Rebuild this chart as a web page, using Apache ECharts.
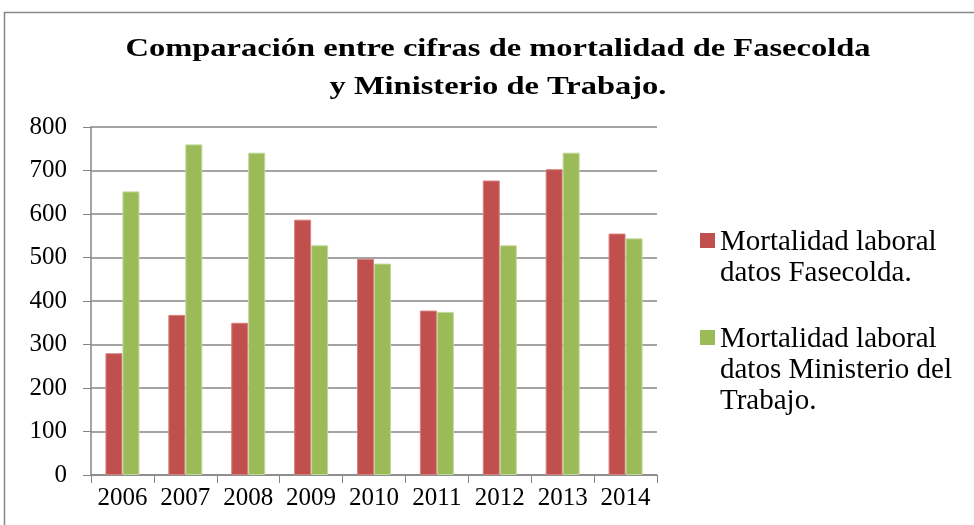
<!DOCTYPE html>
<html><head><meta charset="utf-8">
<script src="https://cdn.jsdelivr.net/npm/echarts@6/dist/echarts.min.js"></script>
<style>html,body{margin:0;padding:0;background:#fff;}#c{width:974px;height:525px;}</style>
</head><body><div id="c"></div>
<script>
const years = ['2006','2007','2008','2009','2010','2011','2012','2013','2014'];
const fasecolda = [280, 368, 350, 587, 497, 378, 677, 703, 555];
const ministerio = [652, 760, 741, 528, 486, 375, 528, 741, 544];
const seriesNames = ['Mortalidad laboral\ndatos Fasecolda.', 'Mortalidad laboral\ndatos Ministerio del\nTrabajo.'];
const titleLines = ['Comparación entre cifras de mortalidad de Fasecolda', 'y Ministerio de Trabajo.'];
const colors = ['#C0504D', '#9BBB59'];

const chart = echarts.init(document.getElementById('c'), null, {renderer:'canvas'});
const serif = '"Liberation Serif", "Times New Roman", serif';
const legendText = {fontFamily:serif, fontSize:29, lineHeight:31, color:'#000'};
chart.setOption({
  animation:false,
  backgroundColor:'#fff',
  graphic:[
    {type:'rect', shape:{x:4.5,y:12.5,width:1000,height:600}, style:{fill:'none', stroke:'#868686', lineWidth:1.5}, silent:true},
    {type:'text', x:498, y:49, scaleX:1.25, style:{text:titleLines[0], align:'center', verticalAlign:'middle', font:'bold 26px ' + serif, fill:'#000'}},
    {type:'text', x:498, y:87, scaleX:1.25, style:{text:titleLines[1], align:'center', verticalAlign:'middle', font:'bold 26px ' + serif, fill:'#000'}}
  ],
  legend:[
    {orient:'vertical', left:700, top:227, padding:0, itemWidth:15, itemHeight:62, selectedMode:false,
     icon:'path://M0,0h15 M0,6h15v15h-15z M0,62h15', itemStyle:{borderWidth:0},
     textStyle:legendText, data:[seriesNames[0]]},
    {orient:'vertical', left:700, top:324, padding:0, itemWidth:15, itemHeight:93, selectedMode:false,
     icon:'path://M0,0h15 M0,6h15v15h-15z M0,93h15', itemStyle:{borderWidth:0},
     textStyle:legendText, data:[seriesNames[1]]}
  ],
  grid:{left:91, right:317, top:127, bottom:50},
  xAxis:{type:'category', data:years, boundaryGap:true,
    axisLine:{lineStyle:{color:'#868686', width:1.5}},
    axisTick:{show:true, length:8, lineStyle:{color:'#868686'}},
    axisLabel:{fontFamily:serif, fontSize:25, color:'#000', margin:11, interval:0, hideOverlap:false}},
  yAxis:{type:'value', min:0, max:800, interval:100,
    axisLine:{show:true, lineStyle:{color:'#868686', width:1.5}},
    axisTick:{show:true, length:8, lineStyle:{color:'#868686'}},
    splitLine:{lineStyle:{color:'#868686', width:1.5}},
    axisLabel:{fontFamily:serif, fontSize:25, color:'#000', margin:24}},
  series:[
    {name:seriesNames[0], type:'bar', data:fasecolda, barWidth:17, barGap:'0%',
     itemStyle:{color:colors[0], borderColor:'#D9807D', borderWidth:1}},
    {name:seriesNames[1], type:'bar', data:ministerio, barWidth:17, barGap:'0%',
     itemStyle:{color:colors[1], borderColor:'#C3D69B', borderWidth:1}}
  ]
});
</script></body></html>
